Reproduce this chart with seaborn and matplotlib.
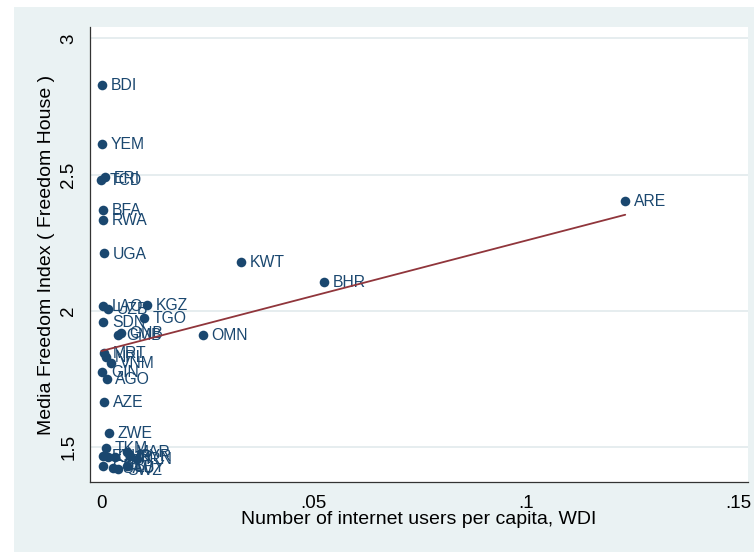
import matplotlib
matplotlib.use("Agg")
import matplotlib.pyplot as plt
from matplotlib.patches import Rectangle
import numpy as np
import pandas as pd
import seaborn as sns

# Country codes, internet users per capita (WDI) and media freedom index (Freedom House)
codes = [
    "BDI", "YEM", "ERI", "TCD", "BFA", "RWA", "UGA",
    "LAO", "UZB", "SDN", "GMB", "GNB", "MRT", "NPL", "VNM",
    "GIN", "AGO", "AZE", "ZWE", "TKM",
    "KGZ", "TGO", "OMN", "KWT", "BHR", "ARE",
    "ETH", "CMR", "TJK", "MAR", "SYR", "IRN", "CUB", "SAU", "SWZ", "LBY",
]
internet = [
    0.0003, 0.0003, 0.0009, 0.0001, 0.0005, 0.0005, 0.0008,
    0.0005, 0.0016, 0.0005, 0.0039, 0.0047, 0.0008, 0.0012, 0.0024,
    0.0003, 0.0013, 0.0007, 0.0019, 0.0012,
    0.0109, 0.0100, 0.0239, 0.0330, 0.0525, 0.1234,
    0.0005, 0.0017, 0.0033, 0.0061, 0.0069, 0.0085, 0.0005, 0.0029, 0.0041, 0.0062,
]
media_freedom = [
    2.828, 2.614, 2.490, 2.480, 2.370, 2.333, 2.211,
    2.018, 2.006, 1.959, 1.912, 1.918, 1.847, 1.832, 1.810,
    1.777, 1.751, 1.667, 1.553, 1.498,
    2.022, 1.975, 1.912, 2.179, 2.106, 2.403,
    1.468, 1.465, 1.462, 1.483, 1.469, 1.458, 1.432, 1.423, 1.418, 1.429,
]

x_ticks = [0, 0.05, 0.10, 0.15]
x_tick_labels = ["0", ".05", ".1", ".15"]
y_ticks = [1.5, 2.0, 2.5, 3.0]
y_tick_labels = ["1.5", "2", "2.5", "3"]

df = pd.DataFrame({"code": codes, "internet": internet, "media": media_freedom})

sns.set_theme(style="white")
plt.rcParams["font.family"] = ["Liberation Sans", "DejaVu Sans"]

W, H = 754, 552
fig = plt.figure(figsize=(W / 100, H / 100), dpi=100, facecolor="white")

# Light graph-region band behind the plot area
bg = fig.add_axes([14 / W, 0, 1 - 14 / W, 1 - 7 / H], zorder=-5)
bg.set_axis_off()
bg.add_patch(Rectangle((0, 0), 1, 1, transform=bg.transAxes,
                       facecolor="#EAF2F3", edgecolor="none"))

ax = fig.add_axes([90 / W, 1 - 482 / H, (748 - 90) / W, (482 - 27) / H], zorder=1)
ax.set_facecolor("white")

navy = "#1a476f"
maroon = "#90353b"

sns.scatterplot(data=df, x="internet", y="media", ax=ax, s=48, color=navy,
                edgecolor=navy, linewidth=0, zorder=3)
for _, r in df.iterrows():
    ax.annotate(r["code"], (r["internet"], r["media"]), xytext=(6.2, -0.5),
                textcoords="offset points", ha="left", va="center",
                fontsize=11.3, color=navy, zorder=3)

sns.regplot(data=df, x="internet", y="media", ax=ax, scatter=False, ci=None,
            truncate=True, color=maroon, line_kws={"linewidth": 1.3, "zorder": 4})

ax.set_xlim(-0.0026, 0.1523)
ax.set_ylim(1.372, 3.042)
ax.set_xticks(x_ticks)
ax.set_xticklabels(x_tick_labels)
ax.set_yticks(y_ticks)
ax.set_yticklabels(y_tick_labels, rotation=90, va="center")

ax.yaxis.grid(True, color="#E1EAEC", linewidth=1.2, zorder=0)
ax.xaxis.grid(False)
ax.set_axisbelow(True)

for side in ["top", "right"]:
    ax.spines[side].set_visible(False)
for side in ["left", "bottom"]:
    ax.spines[side].set_color("#333333")
    ax.spines[side].set_linewidth(0.9)

ax.tick_params(axis="both", direction="out", length=6, width=0.9,
               color="#333333", labelsize=13.5, labelcolor="black", pad=3)

ax.set_xlabel("Number of internet users per capita, WDI", fontsize=14, color="black", labelpad=0)
ax.set_ylabel("Media Freedom Index ( Freedom House )", fontsize=14, color="black", labelpad=4)

fig.savefig("out.png", dpi=100, facecolor=fig.get_facecolor())
